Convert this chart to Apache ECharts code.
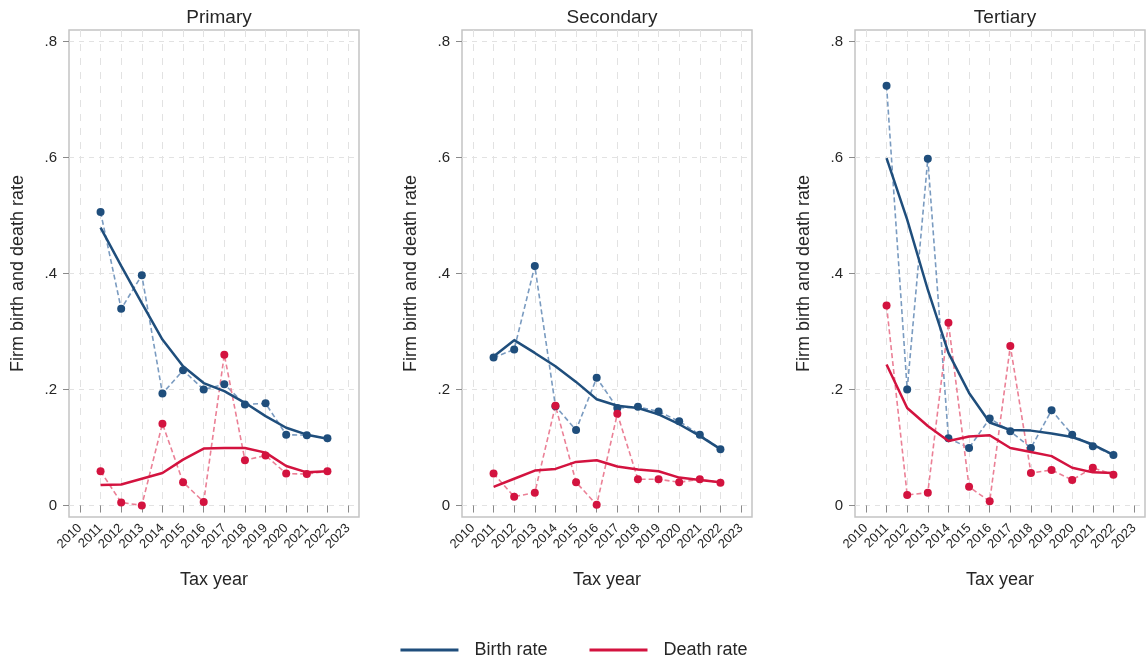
<!DOCTYPE html>
<html>
<head>
<meta charset="utf-8">
<title>Firm birth and death rates by sector</title>
<script src="https://cdn.jsdelivr.net/npm/echarts@6/dist/echarts.min.js"></script>
<style>
  html, body { margin: 0; padding: 0; background: #ffffff; }
  #chart { width: 1148px; height: 660px; }
</style>
</head>
<body>
<div id="chart"></div>
<script>
// ---- data ---------------------------------------------------------------
const years = [2011, 2012, 2013, 2014, 2015, 2016, 2017, 2018, 2019, 2020, 2021, 2022];
const xTickYears = [2010, 2011, 2012, 2013, 2014, 2015, 2016, 2017, 2018, 2019, 2020, 2021, 2022, 2023];
const yTickValues = [0, 0.2, 0.4, 0.6, 0.8];
const sectors = ['Primary', 'Secondary', 'Tertiary'];
const seriesNames = ['Birth rate', 'Death rate'];

// annual rates
const primaryBirth   = [0.506, 0.339, 0.397, 0.193, 0.233, 0.200, 0.209, 0.174, 0.176, 0.122, 0.121, 0.116];
const primaryDeath   = [0.059, 0.005, 0.000, 0.141, 0.040, 0.006, 0.260, 0.078, 0.086, 0.055, 0.054, 0.059];
const secondaryBirth = [0.255, 0.269, 0.413, 0.171, 0.130, 0.220, 0.168, 0.170, 0.162, 0.145, 0.122, 0.097];
const secondaryDeath = [0.055, 0.015, 0.022, 0.172, 0.040, 0.001, 0.158, 0.045, 0.045, 0.040, 0.045, 0.039];
const tertiaryBirth  = [0.724, 0.200, 0.598, 0.116, 0.099, 0.150, 0.128, 0.099, 0.164, 0.122, 0.102, 0.087];
const tertiaryDeath  = [0.345, 0.018, 0.022, 0.315, 0.032, 0.007, 0.275, 0.056, 0.061, 0.044, 0.065, 0.053];

// smoothed trends
const primaryBirthFit   = [0.479, 0.413, 0.349, 0.286, 0.240, 0.211, 0.197, 0.177, 0.154, 0.134, 0.122, 0.115];
const primaryDeathFit   = [0.035, 0.036, 0.046, 0.056, 0.079, 0.098, 0.099, 0.099, 0.091, 0.068, 0.057, 0.059];
const secondaryBirthFit = [0.257, 0.285, 0.263, 0.240, 0.213, 0.183, 0.172, 0.168, 0.157, 0.140, 0.120, 0.097];
const secondaryDeathFit = [0.032, 0.046, 0.060, 0.063, 0.075, 0.078, 0.067, 0.062, 0.059, 0.048, 0.044, 0.040];
const tertiaryBirthFit  = [0.599, 0.493, 0.372, 0.263, 0.194, 0.143, 0.130, 0.129, 0.124, 0.118, 0.105, 0.087];
const tertiaryDeathFit  = [0.243, 0.168, 0.137, 0.111, 0.119, 0.121, 0.099, 0.092, 0.085, 0.065, 0.057, 0.056];

const rawData = [
  [primaryBirth, primaryDeath],
  [secondaryBirth, secondaryDeath],
  [tertiaryBirth, tertiaryDeath]
];
const fitData = [
  [primaryBirthFit, primaryDeathFit],
  [secondaryBirthFit, secondaryDeathFit],
  [tertiaryBirthFit, tertiaryDeathFit]
];

// ---- styling ------------------------------------------------------------
const FONT = "'Liberation Sans', Arial, Helvetica, sans-serif";
const TEXT = '#262626';
const darkColors  = ['#1f4e7c', '#d3133f'];
const lightColors = ['#7a9bc0', '#eb8096'];
const gridLefts = [69, 462, 855];
const GRID_TOP = 30, GRID_W = 290, GRID_H = 487;

const pairs = arr => years.map((y, i) => [y, arr[i]]);
const fmtY = v => (v === 0 ? '0' : String(+v.toFixed(1)).replace(/^0/, ''));

const grids = [], xAxes = [], yAxes = [], titles = [], series = [];

sectors.forEach((name, p) => {
  grids.push({
    left: gridLefts[p], top: GRID_TOP, width: GRID_W, height: GRID_H,
    show: true, borderColor: '#c4c4c4', borderWidth: 1.5, backgroundColor: '#ffffff'
  });
  titles.push({
    text: name,
    left: gridLefts[p] + GRID_W / 2, top: 3, textAlign: 'center',
    textStyle: { fontFamily: FONT, fontSize: 19, fontWeight: 'normal', color: TEXT }
  });
  xAxes.push({
    gridIndex: p, type: 'value', min: 2009.47, max: 2023.53,
    name: 'Tax year', nameLocation: 'middle', nameGap: 54,
    nameTextStyle: { fontFamily: FONT, fontSize: 18, color: TEXT },
    axisLine: { show: false },
    axisTick: { show: true, length: 7, customValues: xTickYears, lineStyle: { color: '#8a8a8a', width: 1 } },
    axisLabel: {
      customValues: xTickYears, rotate: 45, margin: 9,
      fontFamily: FONT, fontSize: 13, color: TEXT, formatter: v => String(v)
    },
    splitLine: { show: true, lineStyle: { color: '#e2e2e2', width: 1, type: [7, 7] } }
  });
  yAxes.push({
    gridIndex: p, type: 'value', min: -0.02, max: 0.82,
    name: 'Firm birth and death rate', nameLocation: 'middle', nameGap: 42,
    nameTextStyle: { fontFamily: FONT, fontSize: 18, color: TEXT },
    axisLine: { show: false },
    axisTick: { show: true, length: 6, customValues: yTickValues, lineStyle: { color: '#8a8a8a', width: 1 } },
    axisLabel: {
      customValues: yTickValues, margin: 12,
      fontFamily: FONT, fontSize: 15, color: TEXT, formatter: fmtY
    },
    splitLine: { show: true, lineStyle: { color: '#e2e2e2', width: 1, type: [5, 5] } }
  });

  // annual values: dashed connectors with solid markers
  [0, 1].forEach(k => {
    series.push({
      name: seriesNames[k] + ' (annual)',
      type: 'line', xAxisIndex: p, yAxisIndex: p,
      data: pairs(rawData[p][k]),
      symbol: 'circle', symbolSize: 8, showSymbol: true, clip: false,
      itemStyle: { color: darkColors[k] },
      lineStyle: { color: lightColors[k], width: 1.6, type: [5, 3] },
      z: 3, silent: true, animation: false
    });
  });
  // smoothed trend lines
  [0, 1].forEach(k => {
    series.push({
      name: seriesNames[k],
      type: 'line', xAxisIndex: p, yAxisIndex: p,
      data: pairs(fitData[p][k]),
      showSymbol: false, symbol: 'none', clip: false,
      itemStyle: { color: darkColors[k] },
      lineStyle: { color: darkColors[k], width: 2.5 },
      z: 4, silent: true, animation: false
    });
  });
});

const chart = echarts.init(document.getElementById('chart'), null, { renderer: 'canvas' });
chart.setOption({
  backgroundColor: '#ffffff',
  animation: false,
  title: titles,
  grid: grids,
  xAxis: xAxes,
  yAxis: yAxes,
  legend: {
    data: seriesNames,
    left: 'center', top: 636,
    icon: 'rect', itemWidth: 58, itemHeight: 3, itemGap: 42,
    textStyle: { fontFamily: FONT, fontSize: 18, color: TEXT, padding: [0, 0, 0, 11] },
    selectedMode: false
  },
  series: series
});
</script>
</body>
</html>
